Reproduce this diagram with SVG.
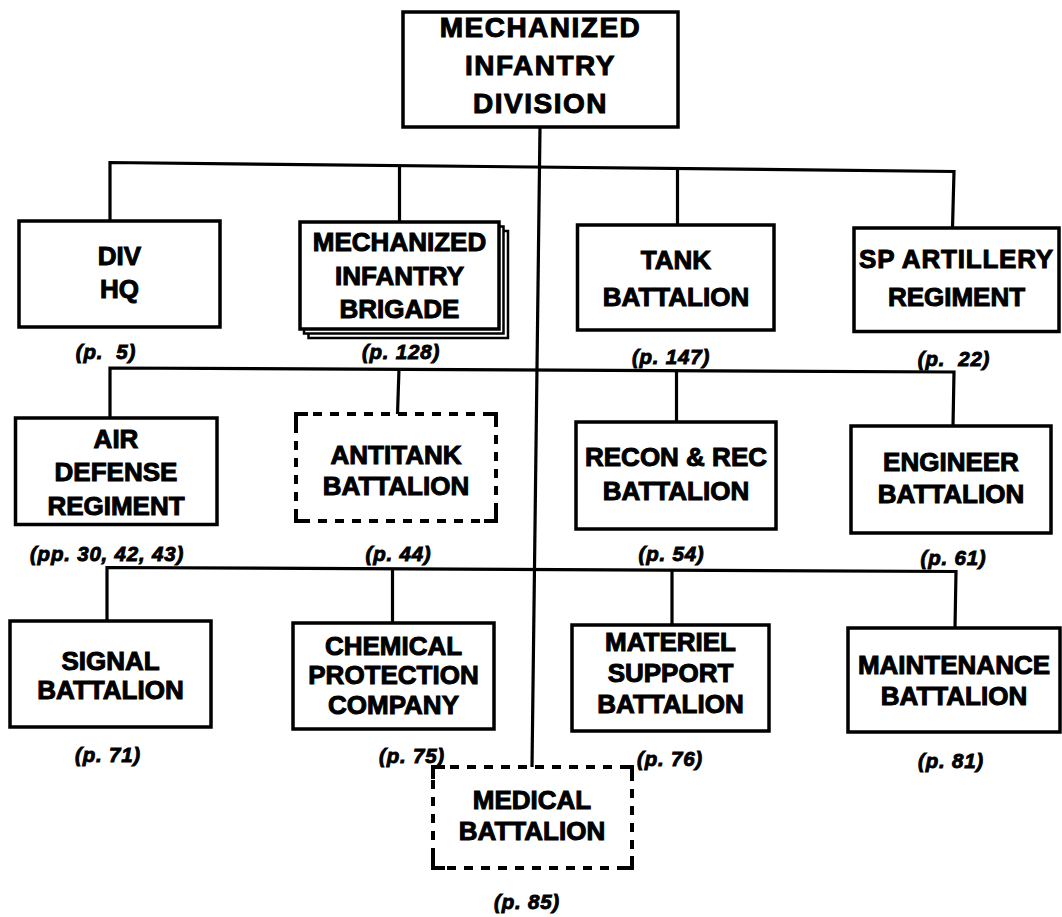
<svg xmlns="http://www.w3.org/2000/svg" width="1062" height="917" viewBox="0 0 1062 917">
<style>
.box{fill:#fff;stroke:#000;stroke-width:3.5}
.stk{fill:#fff;stroke:#000;stroke-width:2.5}
.dash{fill:none;stroke:#000;stroke-width:4;stroke-dasharray:9 8}
.corner{fill:none;stroke:#000;stroke-width:4}
.con{fill:none;stroke:#000;stroke-width:3.2}
.t{font-family:"Liberation Sans",Arial,sans-serif;font-weight:bold;font-size:26px;text-anchor:middle;fill:#000;stroke:#000;stroke-width:1}
.title{font-size:28px;letter-spacing:1.5px}
.pg{font-family:"Liberation Sans",Arial,sans-serif;font-weight:bold;font-style:italic;font-size:20.5px;letter-spacing:0.8px;text-anchor:middle;fill:#000;stroke:#000;stroke-width:0.9;white-space:pre}
</style>
<rect width="1062" height="917" fill="#fff"/>
<g id="connectors">
<path class="con" d="M540,127 L532,767"/>
<path class="con" d="M110,221 L110,162.5 L954,171.5 L952.5,228"/>
<path class="con" d="M399.5,165 L399.5,222"/>
<path class="con" d="M677.5,168 L677.5,225"/>
<path class="con" d="M110,418 L110,368 L954,372 L953,426"/>
<path class="con" d="M399,369 L397.5,414"/>
<path class="con" d="M676.5,371 L676.5,422"/>
<path class="con" d="M107,621 L107,567.5 L956,571.5 L955,628"/>
<path class="con" d="M392.5,568.5 L392.5,623"/>
<path class="con" d="M672,570 L672,625"/>
</g>
<g id="division">
<rect class="box" x="403" y="12" width="275" height="115"/>
<text class="t title" x="540.5" y="37">MECHANIZED</text>
<text class="t title" x="540.5" y="75">INFANTRY</text>
<text class="t title" x="540.5" y="113">DIVISION</text>
</g>
<g id="divhq">
<rect class="box" x="19" y="221" width="201" height="106"/>
<text class="t" x="119.5" y="264.5">DIV</text>
<text class="t" x="119.5" y="297.5">HQ</text>
<text class="pg" x="106" y="359">(p.  5)</text>
</g>
<g id="brigade">
<rect class="stk" x="308.5" y="231" width="199.5" height="107"/>
<rect class="stk" x="304" y="226.5" width="199.5" height="107"/>
<rect class="box" x="300" y="222" width="199" height="107"/>
<text class="t" x="399.5" y="250.5">MECHANIZED</text>
<text class="t" x="399.5" y="285">INFANTRY</text>
<text class="t" x="399.5" y="317.5">BRIGADE</text>
<text class="pg" x="401" y="359">(p. 128)</text>
</g>
<g id="tank">
<rect class="box" x="577.5" y="225" width="196.5" height="105"/>
<text class="t" x="676" y="269">TANK</text>
<text class="t" x="676" y="305.5">BATTALION</text>
<text class="pg" x="671" y="364">(p. 147)</text>
</g>
<g id="artillery">
<rect class="box" x="854" y="228" width="205" height="103.5"/>
<text class="t" x="956.5" y="268" style="letter-spacing:0.8px">SP ARTILLERY</text>
<text class="t" x="956.5" y="305.5">REGIMENT</text>
<text class="pg" x="954" y="366">(p.  22)</text>
</g>
<g id="airdefense">
<rect class="box" x="15.5" y="418" width="201.5" height="106.5"/>
<text class="t" x="116" y="448">AIR</text>
<text class="t" x="116" y="480.5">DEFENSE</text>
<text class="t" x="116" y="515">REGIMENT</text>
<text class="pg" x="107" y="561">(pp. 30, 42, 43)</text>
</g>
<g id="antitank">
<rect class="dash" x="296" y="414" width="200" height="107"/>
<path class="corner" d="M296,426 L296,414 L308,414 M484,414 L496,414 L496,426 M496,509 L496,521 L484,521 M308,521 L296,521 L296,509"/>
<text class="t" x="396" y="463.5">ANTITANK</text>
<text class="t" x="396" y="494.5">BATTALION</text>
<text class="pg" x="398.5" y="561">(p. 44)</text>
</g>
<g id="recon">
<rect class="box" x="576" y="422" width="200" height="107"/>
<text class="t" x="676" y="466">RECON &amp; REC</text>
<text class="t" x="676" y="499.5">BATTALION</text>
<text class="pg" x="671.5" y="561">(p. 54)</text>
</g>
<g id="engineer">
<rect class="box" x="851" y="426" width="200" height="107"/>
<text class="t" x="951" y="471">ENGINEER</text>
<text class="t" x="951" y="503">BATTALION</text>
<text class="pg" x="953.5" y="565">(p. 61)</text>
</g>
<g id="signal">
<rect class="box" x="10" y="621" width="201" height="106"/>
<text class="t" x="110.5" y="669.5">SIGNAL</text>
<text class="t" x="110.5" y="699">BATTALION</text>
<text class="pg" x="108" y="762">(p. 71)</text>
</g>
<g id="chemical">
<rect class="box" x="293" y="623" width="201" height="106"/>
<text class="t" x="393.5" y="655">CHEMICAL</text>
<text class="t" x="393.5" y="684">PROTECTION</text>
<text class="t" x="393.5" y="713.5">COMPANY</text>
<text class="pg" x="412" y="763">(p. 75)</text>
</g>
<g id="materiel">
<rect class="box" x="572" y="625" width="197" height="106"/>
<text class="t" x="670.5" y="651">MATERIEL</text>
<text class="t" x="670.5" y="682">SUPPORT</text>
<text class="t" x="670.5" y="713">BATTALION</text>
<text class="pg" x="670" y="766">(p. 76)</text>
</g>
<g id="maintenance">
<rect class="box" x="848" y="628" width="212" height="104"/>
<text class="t" x="954" y="674">MAINTENANCE</text>
<text class="t" x="954" y="704.5">BATTALION</text>
<text class="pg" x="951" y="768">(p. 81)</text>
</g>
<g id="medical">
<rect class="dash" x="433" y="767" width="199" height="101"/>
<path class="corner" d="M433,779 L433,767 L445,767 M620,767 L632,767 L632,779 M632,856 L632,868 L620,868 M445,868 L433,868 L433,856"/>
<text class="t" x="532" y="808.5">MEDICAL</text>
<text class="t" x="532" y="839.5">BATTALION</text>
<text class="pg" x="527" y="909">(p. 85)</text>
</g>
</svg>
